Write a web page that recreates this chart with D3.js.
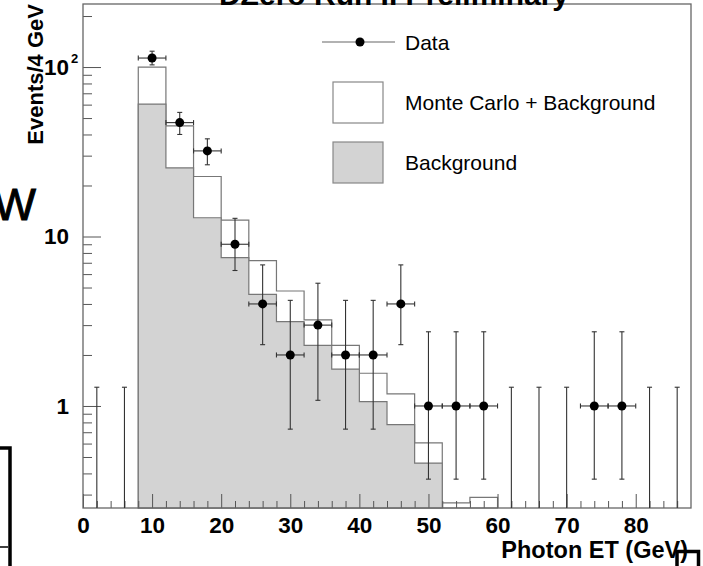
<!DOCTYPE html>
<html>
  <head>
    <meta charset="utf-8">
    <title>Photon ET</title>
    <script src="https://d3js.org/d3.v7.min.js"></script>
    <style>
      body { margin: 0; background: #fff; }
      text { font-family: "Liberation Sans", Arial, Helvetica, sans-serif; }
    </style>
  </head>
  <body>

    <script>

      // bins are 4 GeV wide
      var binCenters = [2, 6, 10, 14, 18, 22, 26, 30, 34, 38, 42, 46, 50, 54, 58, 62, 66, 70, 74, 78, 82, 86];
      var dataCounts = [0, 0, 113, 47, 32, 9, 4, 2, 3, 2, 2, 4, 1, 1, 1, 0, 0, 0, 1, 1, 0, 0];
      var errLow     = [0, 0, 103, 40, 26.5, 6.3, 2.3, 0.73, 1.08, 0.73, 0.73, 2.3, 0.37, 0.37, 0.37, 0, 0, 0, 0.37, 0.37, 0, 0];
      var errHigh    = [1.29, 1.29, 124, 54, 37.7, 12.8, 6.8, 4.2, 5.3, 4.2, 4.2, 6.8, 2.74, 2.74, 2.74, 1.29, 1.29, 1.29, 2.74, 2.74, 1.29, 1.29];
      var mcPlusBkg  = [0, 0, 100, 45, 22.6, 12.5, 7.2, 4.77, 3.22, 2.28, 1.56, 1.18, 0.605, 0.268, 0.289, 0, 0, 0, 0, 0, 0, 0];
      var background = [0, 0, 60.5, 25.4, 12.9, 7.5, 4.56, 3.15, 2.28, 1.65, 1.06, 0.776, 0.46, 0, 0, 0, 0, 0, 0, 0, 0, 0];
      var binWidth = 4;

      var xMajor = [0, 10, 20, 30, 40, 50, 60, 70, 80];
      var yMajor = [1, 10, 100];
      var yMinor = [0.3, 0.4, 0.5, 0.6, 0.7, 0.8, 0.9, 2, 3, 4, 5, 6, 7, 8, 9, 20, 30, 40, 50, 60, 70, 80, 90, 200];

      var legendItems = ["Data", "Monte Carlo + Background", "Background"];

      var W = 703, H = 566;
      var padL = 83, padR = 691, padT = 4, padB = 508;
      var yMin = 0.25, yMax = 235.5;

      var x = d3.scaleLinear().domain([0, 88]).range([padL, padR]);
      var y = d3.scaleLog().domain([yMin, yMax]).range([padB, padT]).clamp(true);

      var svg = d3.select("body").append("svg")
        .attr("width", W)
        .attr("height", H);

      var lineCol = "#777";

      // histogram outline as steps
      function stepPoints(values) {
        var first = values.findIndex(function(v) { return v > 0; });
        var last = values.length - 1;
        while (values[last] <= 0) last--;
        var pts = [[binCenters[first] - binWidth / 2, yMin]];
        for (var i = first; i <= last; i++) {
          var v = values[i] > 0 ? values[i] : yMin;
          pts.push([binCenters[i] - binWidth / 2, v]);
          pts.push([binCenters[i] + binWidth / 2, v]);
        }
        pts.push([binCenters[last] + binWidth / 2, yMin]);
        return pts;
      }

      var step = d3.line()
        .x(function(d) { return x(d[0]); })
        .y(function(d) { return y(d[1]); });

      svg.append("path")
        .attr("d", step(stepPoints(mcPlusBkg)) + "Z")
        .attr("fill", "#fff")
        .attr("stroke", lineCol)
        .attr("stroke-width", 1.2);

      svg.append("path")
        .attr("d", step(stepPoints(background)) + "Z")
        .attr("fill", "#d3d3d3")
        .attr("stroke", lineCol)
        .attr("stroke-width", 1.2);

      // axes
      var yAxis = d3.axisLeft(y).tickValues(yMajor).tickSizeInner(-18).tickSizeOuter(0).tickPadding(14)
        .tickFormat(function(d) { return d == 100 ? "10" : d3.format("d")(d); });
      var gy = svg.append("g").attr("transform", "translate(" + padL + ",0)").call(yAxis);
      gy.select(".domain").remove();
      gy.selectAll("text").attr("font-size", 22.5).attr("font-weight", "bold").attr("fill", "#000")
        .style("font-family", "'Liberation Sans', Arial, sans-serif");
      gy.selectAll(".tick").filter(function(d) { return d == 100; })
        .append("text")
        .attr("x", -12).attr("y", -5)
        .attr("font-size", 13).attr("font-weight", "bold").attr("fill", "#000")
        .attr("text-anchor", "start")
        .text("2");

      var yAxisMinor = d3.axisLeft(y).tickValues(yMinor).tickSizeInner(-9).tickSizeOuter(0).tickFormat("");
      var gym = svg.append("g").attr("transform", "translate(" + padL + ",0)").call(yAxisMinor);
      gym.select(".domain").remove();

      var xAxis = d3.axisBottom(x).tickValues(xMajor).tickSizeInner(-14).tickSizeOuter(0).tickPadding(9);
      var gx = svg.append("g").attr("transform", "translate(0," + padB + ")").call(xAxis);
      gx.select(".domain").remove();
      gx.selectAll("text").attr("font-size", 22.5).attr("font-weight", "bold").attr("fill", "#000")
        .style("font-family", "'Liberation Sans', Arial, sans-serif");

      var xMinorVals = d3.range(2, 88, 2).filter(function(v) { return v % 10 != 0; });
      var xAxisMinor = d3.axisBottom(x).tickValues(xMinorVals).tickSizeInner(-7).tickSizeOuter(0).tickFormat("");
      var gxm = svg.append("g").attr("transform", "translate(0," + padB + ")").call(xAxisMinor);
      gxm.select(".domain").remove();

      svg.selectAll(".tick line").attr("stroke", "#555");

      // frame
      svg.append("rect")
        .attr("x", padL).attr("y", padT)
        .attr("width", padR - padL).attr("height", padB - padT)
        .attr("fill", "none")
        .attr("stroke", "#666")
        .attr("stroke-width", 1.3);

      // data with error bars
      var pts = binCenters.map(function(c, i) {
        return { c: c, n: dataCounts[i], lo: errLow[i], hi: errHigh[i] };
      });
      var errCol = "#333", cap = 2.5;
      var g = svg.append("g").attr("stroke", errCol).attr("stroke-width", 1.1);

      pts.forEach(function(d) {
        var xc = x(d.c);
        var yl = d.lo > 0 ? y(d.lo) : padB;
        var yh = y(d.hi);
        g.append("line").attr("x1", xc).attr("x2", xc).attr("y1", yl).attr("y2", yh);
        g.append("line").attr("x1", xc - cap).attr("x2", xc + cap).attr("y1", yh).attr("y2", yh);
        if (d.lo > 0) {
          g.append("line").attr("x1", xc - cap).attr("x2", xc + cap).attr("y1", yl).attr("y2", yl);
        }
        if (d.n > 0) {
          var yc = y(d.n);
          var x0 = x(d.c - binWidth / 2), x1 = x(d.c + binWidth / 2);
          g.append("line").attr("x1", x0).attr("x2", x1).attr("y1", yc).attr("y2", yc);
          g.append("line").attr("x1", x0).attr("x2", x0).attr("y1", yc - cap).attr("y2", yc + cap);
          g.append("line").attr("x1", x1).attr("x2", x1).attr("y1", yc - cap).attr("y2", yc + cap);
        }
      });

      svg.append("g").selectAll("circle")
        .data(pts.filter(function(d) { return d.n > 0; }))
        .enter().append("circle")
        .attr("cx", function(d) { return x(d.c); })
        .attr("cy", function(d) { return y(d.n); })
        .attr("r", 4.5)
        .attr("fill", "#000");

      // legend
      var lg = svg.append("g");
      lg.append("line").attr("x1", 322).attr("x2", 395).attr("y1", 42).attr("y2", 42)
        .attr("stroke", "#666").attr("stroke-width", 1.2);
      lg.append("circle").attr("cx", 360).attr("cy", 42).attr("r", 4.5).attr("fill", "#000");
      lg.append("rect").attr("x", 333).attr("y", 82).attr("width", 50).attr("height", 41)
        .attr("fill", "#fff").attr("stroke", "#888").attr("stroke-width", 1.2);
      lg.append("rect").attr("x", 333).attr("y", 142).attr("width", 50).attr("height", 41)
        .attr("fill", "#d3d3d3").attr("stroke", "#888").attr("stroke-width", 1.2);
      lg.selectAll("text.leg").data(legendItems).enter().append("text")
        .attr("class", "leg")
        .attr("x", 405)
        .attr("y", function(d, i) { return [42, 102.5, 162.5][i] + 7.5; })
        .attr("font-size", 21)
        .attr("fill", "#000")
        .text(function(d) { return d; });

      // titles
      svg.append("text")
        .attr("x", 394).attr("y", 5)
        .attr("text-anchor", "middle")
        .attr("font-size", 30).attr("font-weight", "bold")
        .text("DZero Run II Preliminary");

      svg.append("text")
        .attr("transform", "translate(43,4) rotate(-90)")
        .attr("text-anchor", "end")
        .attr("font-size", 22).attr("font-weight", "bold")
        .text("Events/4 GeV");

      svg.append("text")
        .attr("x", 688).attr("y", 558)
        .attr("text-anchor", "end")
        .attr("font-size", 23.5).attr("font-weight", "bold")
        .text("Photon ET (GeV)");

      // stray marks at the picture edges
      svg.append("text")
        .attr("x", 36).attr("y", 220)
        .attr("text-anchor", "end")
        .attr("font-size", 45)
        .attr("stroke", "#000").attr("stroke-width", 1)
        .text("W");
      svg.append("path")
        .attr("d", "M0,448H10V566")
        .attr("fill", "none").attr("stroke", "#000").attr("stroke-width", 3.5);
      svg.append("path")
        .attr("d", "M0,547H8")
        .attr("fill", "none").attr("stroke", "#000").attr("stroke-width", 1.5);
      svg.append("path")
        .attr("d", "M677,566V551.5H698.5V566")
        .attr("fill", "none").attr("stroke", "#000").attr("stroke-width", 3.5);

    </script>

  </body>
</html>
